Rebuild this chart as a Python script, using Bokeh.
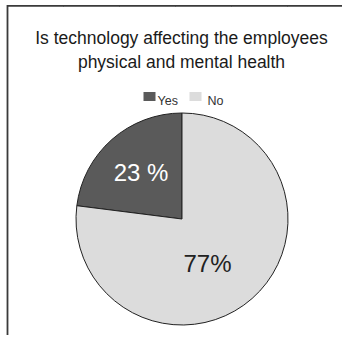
import math
from bokeh.plotting import figure
from bokeh.models import Range1d, ColumnDataSource
from bokeh.core.properties import value
from bokeh.embed import file_html
from bokeh.resources import INLINE

# ---- data ----
title_lines = ["Is technology affecting the employees", "physical and mental health"]
categories = ["Yes", "No"]
values = [23, 77]
value_labels = ["23 %", "77%"]
colors = ["#5a5a5a", "#dcdcdc"]
label_colors = ["#ffffff", "#222222"]

# ---- layout (pixels) ----
W, H = 342, 335
CX, CY, R = 181.5, 116.5, 106
FONT = "Liberation Sans"

p = figure(width=W, height=H, output_backend="svg", toolbar_location=None,
           x_range=Range1d(0, W), y_range=Range1d(0, H), min_border=0, title=None)
p.axis.visible = False
p.grid.visible = False
p.outline_line_color = None
p.background_fill_color = "white"
p.border_fill_color = "white"

# wedge angles (counter-clockwise starting at 12 o'clock)
total = sum(values)
starts, ends = [], []
a = math.pi / 2
for v in values:
    starts.append(a)
    a += 2 * math.pi * v / total
    ends.append(a)

src = ColumnDataSource(dict(cat=categories, val=values, start=starts, end=ends, color=colors))
p.wedge(x=CX, y=CY, radius=R, start_angle="start", end_angle="end", fill_color="color",
        line_color="#222222", line_width=1, source=src)

# value labels
label_offsets = [(-41, 47), (25.5, -44)]
p.text(x=[CX + dx for dx, dy in label_offsets], y=[CY + dy for dx, dy in label_offsets],
       text=value_labels, text_color=label_colors, text_font=value(FONT),
       text_font_size="24px", text_align="center", text_baseline="middle")

# title
p.text(x=[181, 181], y=[297.5, 273.5], text=title_lines, text_font=value(FONT),
       text_font_size="17.5px", text_align="center", text_baseline="alphabetic",
       text_color="#1a1a1a")

# legend (manual)
leg_box_x = [149, 195]
leg_text_x = [157, 207]
p.rect(x=leg_box_x, y=[239, 239], width=12, height=9, fill_color=colors, line_color=None)
p.text(x=leg_text_x, y=[234.5, 234.5], text=categories, text_font=value(FONT),
       text_font_size="12.5px", text_align="left", text_baseline="alphabetic",
       text_color="#333333")

# partial frame border (left edge, top edge)
p.segment(x0=[7], y0=[0], x1=[7], y1=[330.5], line_color="#3a3a3a", line_width=1.8)
edge_x = [7 + i * 56 for i in range(7)]
p.segment(x0=edge_x[:-1], y0=[329.6] * 6, x1=[x + 56.5 for x in edge_x[:-1]], y1=[329.6] * 6,
          line_color="#3a3a3a", line_width=1.8)

open("out.html", "w").write(file_html(p, INLINE))
